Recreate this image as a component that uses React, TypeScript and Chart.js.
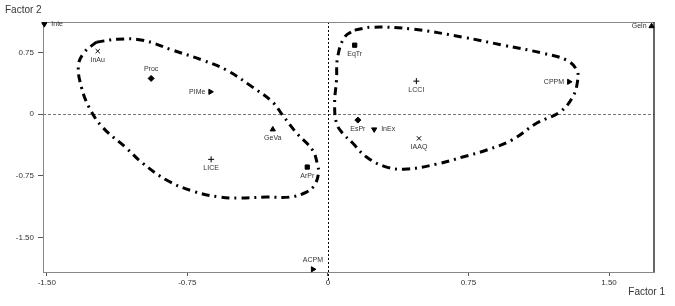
import React, { useEffect, useRef } from "react";
import { Chart, registerables } from "chart.js";

Chart.register(...registerables);

// ---- data ----
const pointNames = ["Inte", "InAu", "Proc", "PIMe", "GeVa", "LICE", "ArPr", "ACPM", "EqTr", "LCCI", "CPPM", "Geln", "EsPr", "InEx", "IAAQ"];
const factor1 = [-1.513, -1.228, -0.943, -0.627, -0.294, -0.623, -0.11, -0.08, 0.143, 0.472, 1.287, 1.727, 0.16, 0.247, 0.486];
const factor2 = [1.094, 0.766, 0.434, 0.271, -0.186, -0.55, -0.644, -1.887, 0.838, 0.401, 0.393, 1.069, -0.073, -0.186, -0.295];

const xTickValues = [-1.5, -0.75, 0, 0.75, 1.5];
const xTickLabels = ["-1.50", "-0.75", "0", "0.75", "1.50"];
const yTickValues = [0.75, 0, -0.75, -1.5];
const yTickLabels = ["0.75", "0", "-0.75", "-1.50"];

const leftClusterX = [-1.235, -1.123, -0.989, -0.829, -0.669, -0.541, -0.402, -0.295, -0.242, -0.167, -0.082, -0.055, -0.05, -0.071, -0.114, -0.204, -0.327, -0.471, -0.578, -0.722, -0.861, -0.989, -1.075, -1.203, -1.272, -1.315, -1.331, -1.299, -1.235];
const leftClusterY = [0.875, 0.911, 0.899, 0.778, 0.656, 0.535, 0.328, 0.146, -0.012, -0.231, -0.437, -0.62, -0.717, -0.863, -0.948, -1.009, -1.009, -1.021, -1.009, -0.936, -0.802, -0.595, -0.413, -0.158, 0.073, 0.328, 0.595, 0.753, 0.875];
const rightClusterX = [0.143, 0.239, 0.452, 0.719, 0.933, 1.146, 1.274, 1.328, 1.333, 1.306, 1.237, 1.115, 0.981, 0.847, 0.719, 0.58, 0.42, 0.313, 0.206, 0.132, 0.078, 0.046, 0.036, 0.046, 0.052, 0.089, 0.143];
const rightClusterY = [1.021, 1.057, 1.033, 0.936, 0.839, 0.741, 0.656, 0.535, 0.413, 0.207, 0.024, -0.109, -0.316, -0.437, -0.522, -0.608, -0.668, -0.644, -0.522, -0.352, -0.231, -0.109, 0.134, 0.413, 0.693, 0.936, 1.021];

// ---- styles ----
const markerStyles = ["triangle", "crossRot", "rectRot", "triangle", "triangle", "cross", "rect", "triangle", "rect", "cross", "triangle", "triangle", "rectRot", "triangle", "crossRot"];
const markerRotation = [180, 0, 0, 90, 0, 0, 0, 90, 0, 0, 90, 0, 0, 180, 0];
const labelPlacement = ["right", "below", "above", "left", "below", "below", "below", "above", "below", "below", "left", "left", "below", "right", "below"];

const FONT = "Arial, 'Liberation Sans', sans-serif";

const framePlugin = {
  id: "frame",
  beforeDatasetsDraw(chart: any) {
    const { ctx, chartArea: a, scales } = chart;
    const x0 = scales.x.getPixelForValue(0);
    const y0 = scales.y.getPixelForValue(0);
    ctx.save();
    ctx.strokeStyle = "#777";
    ctx.lineWidth = 1;
    ctx.setLineDash([3, 2]);
    ctx.beginPath();
    ctx.moveTo(a.left, Math.round(y0) + 0.5);
    ctx.lineTo(a.right, Math.round(y0) + 0.5);
    ctx.stroke();
    ctx.strokeStyle = "#000";
    ctx.setLineDash([2, 2]);
    ctx.beginPath();
    ctx.moveTo(Math.round(x0) + 0.5, a.top);
    ctx.lineTo(Math.round(x0) + 0.5, a.bottom + 8);
    ctx.stroke();
    ctx.setLineDash([]);
    ctx.strokeStyle = "#888";
    ctx.beginPath();
    ctx.moveTo(a.left, a.top + 0.5);
    ctx.lineTo(a.right, a.top + 0.5);
    ctx.stroke();
    ctx.strokeStyle = "#000";
    ctx.lineWidth = 1.2;
    ctx.beginPath();
    ctx.moveTo(a.right, a.top);
    ctx.lineTo(a.right, a.bottom);
    ctx.stroke();
    ctx.restore();
  },
  afterDraw(chart: any) {
    const { ctx, scales } = chart;
    ctx.save();
    ctx.fillStyle = "#333";
    ctx.font = `10px ${FONT}`;
    ctx.textBaseline = "middle";
    ctx.textAlign = "left";
    ctx.fillText("Factor 2", 5, 10);
    ctx.textAlign = "right";
    ctx.fillText("Factor 1", 665, 292);
    ctx.font = `7px ${FONT}`;
    ctx.fillStyle = "#333";
    for (let i = 0; i < pointNames.length; i++) {
      const px = scales.x.getPixelForValue(factor1[i]);
      const py = scales.y.getPixelForValue(factor2[i]);
      const p = labelPlacement[i];
      let tx = px, ty = py;
      if (p === "below") { ctx.textAlign = "center"; ty = py + 9; }
      else if (p === "above") { ctx.textAlign = "center"; ty = py - 9; }
      else if (p === "left") { ctx.textAlign = "right"; tx = px - 5; }
      else { ctx.textAlign = "left"; tx = px + 7; }
      ctx.fillText(pointNames[i], tx, ty);
    }
    ctx.restore();
  },
};

export default function App() {
  const ref = useRef<HTMLCanvasElement>(null);
  useEffect(() => {
    if (!ref.current) return;
    const curve = (xs: number[], ys: number[]) => ({
      type: "line",
      data: xs.map((x, i) => ({ x, y: ys[i] })),
      showLine: true,
      borderColor: "#000",
      borderWidth: 3,
      borderDash: [8, 5, 2, 5],
      pointRadius: 0,
      tension: 0.4,
      fill: false,
    });
    const chart = new Chart(ref.current, {
      type: "scatter",
      data: {
        datasets: [
          curve(leftClusterX, leftClusterY) as any,
          curve(rightClusterX, rightClusterY) as any,
          {
            data: factor1.map((x, i) => ({ x, y: factor2[i] })),
            pointStyle: markerStyles as any,
            rotation: markerRotation as any,
            pointRadius: 3,
            backgroundColor: "#000",
            borderColor: "#000",
            borderWidth: 1,
            clip: false as any,
          },
        ],
      },
      options: {
        animation: false,
        responsive: false,
        layout: { padding: { top: 22, right: 21, left: 0, bottom: 0 } },
        plugins: { legend: { display: false }, tooltip: { enabled: false } },
        scales: {
          x: {
            type: "linear",
            min: -1.52,
            max: 1.74,
            afterBuildTicks: (s: any) => { s.ticks = xTickValues.map((v) => ({ value: v })); },
            afterFit: (s: any) => { s.height = 34; },
            ticks: {
              font: { size: 8, family: FONT },
              color: "#333",
              padding: 2,
              maxRotation: 0,
              callback: (v: any) => xTickLabels[xTickValues.indexOf(Number(v))] ?? "",
            },
            grid: { drawOnChartArea: false, tickLength: 4, color: "#555" },
            border: { color: "#888" },
          },
          y: {
            type: "linear",
            min: -1.92,
            max: 1.12,
            afterBuildTicks: (s: any) => { s.ticks = yTickValues.map((v) => ({ value: v })); },
            afterFit: (s: any) => { s.width = 43; },
            ticks: {
              font: { size: 8, family: FONT },
              color: "#333",
              padding: 4,
              callback: (v: any) => yTickLabels[yTickValues.indexOf(Number(v))] ?? "",
            },
            grid: { drawOnChartArea: false, tickLength: 5, color: "#555" },
            border: { color: "#888" },
          },
        },
      },
      plugins: [framePlugin],
    });
    return () => chart.destroy();
  }, []);
  return (
    <div style={{ position: "fixed", left: 0, top: 0, width: 675, height: 306, background: "#fff" }}>
      <canvas ref={ref} width={675} height={306} style={{ width: 675, height: 306 }} />
    </div>
  );
}
